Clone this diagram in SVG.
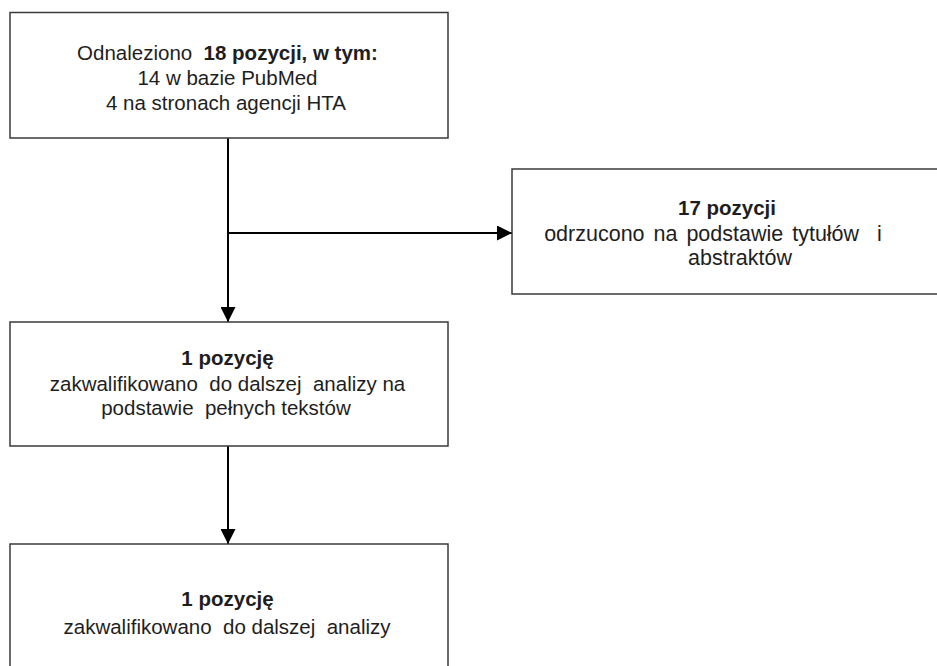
<svg xmlns="http://www.w3.org/2000/svg" width="937" height="666" viewBox="0 0 937 666">
<style>
.box{fill:#ffffff;stroke:#3a3a3a;stroke-width:1.5}
.t{font-family:"Liberation Sans",Arial,sans-serif;font-size:20.5px;fill:#1e1e1e;text-anchor:middle;white-space:pre}
.b{font-weight:bold}
.l{font-size:21.5px}
.c{stroke:#000;stroke-width:2;fill:none}
</style>
<defs>
<marker id="ah" markerWidth="15" markerHeight="15" viewBox="0 0 15 15" refX="15" refY="7.5" orient="auto" markerUnits="userSpaceOnUse">
<path d="M0,0 L15,7.5 L0,15 Z" fill="#000"/>
</marker>
</defs>
<rect width="937" height="666" fill="#ffffff"/>
<g id="connectors">
<line class="c" x1="228" y1="138" x2="228" y2="322" marker-end="url(#ah)"/>
<line class="c" x1="228" y1="233" x2="512" y2="233" marker-end="url(#ah)"/>
<line class="c" x1="228" y1="446" x2="228" y2="544" marker-end="url(#ah)"/>
</g>
<g id="node1">
<rect class="box" x="10" y="12.5" width="438" height="125.5"/>
<text class="t" x="227.5" y="59.5" xml:space="preserve">Odnaleziono  <tspan class="b">18 pozycji, w tym:</tspan></text>
<text class="t" x="227.5" y="84.5">14 w bazie PubMed</text>
<text class="t" x="226" y="109.5">4 na stronach agencji HTA</text>
</g>
<g id="node2">
<rect class="box" x="512" y="169" width="426" height="125"/>
<text class="t b" x="727" y="215">17 pozycji</text>
<text class="t l" x="713" y="240.5" style="word-spacing:3px" xml:space="preserve">odrzucono na podstawie tytułów  i</text>
<text class="t l" x="740" y="265">abstraktów</text>
</g>
<g id="node3">
<rect class="box" x="10" y="322" width="438" height="124"/>
<text class="t b" x="227.5" y="365">1 pozycję</text>
<text class="t" x="227.5" y="391" xml:space="preserve">zakwalifikowano  do dalszej  analizy na</text>
<text class="t" x="226" y="415" xml:space="preserve">podstawie  pełnych tekstów</text>
</g>
<g id="node4">
<rect class="box" x="10" y="544" width="438" height="140"/>
<text class="t b" x="227.5" y="605.5">1 pozycję</text>
<text class="t" x="227" y="633.5" xml:space="preserve">zakwalifikowano  do dalszej  analizy</text>
</g>
</svg>
